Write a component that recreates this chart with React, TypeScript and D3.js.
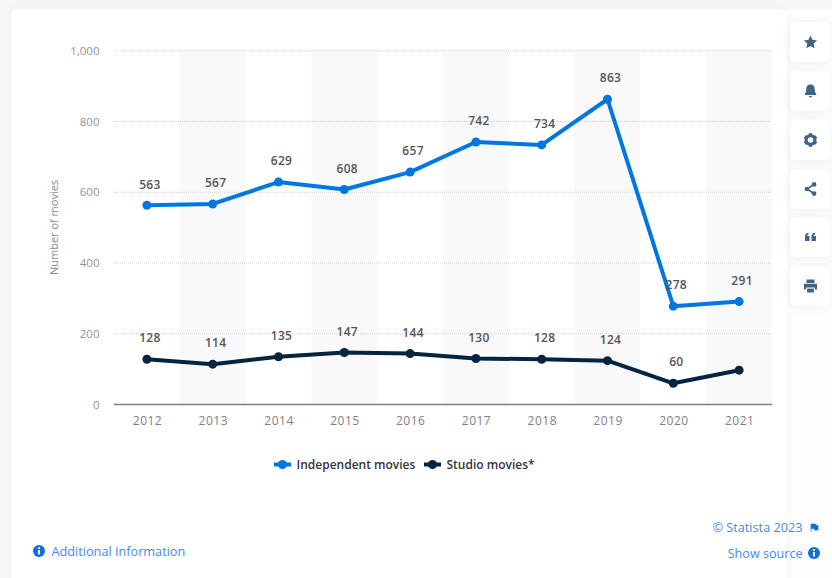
import React from "react";
import * as d3 from "d3";

const years = ["2012", "2013", "2014", "2015", "2016", "2017", "2018", "2019", "2020", "2021"];
const independentMovies = [563, 567, 629, 608, 657, 742, 734, 863, 278, 291];
const studioMovies = [128, 114, 135, 147, 144, 130, 128, 124, 60, 97];
const studioLabels = ["128", "114", "135", "147", "144", "130", "128", "124", "60", ""];
const yTicks = [0, 200, 400, 600, 800, 1000];
const seriesNames = ["Independent movies", "Studio movies*"];
const seriesColors = ["#0077e0", "#04243f"];

const FONT = "'Open Sans', sans-serif";
const x = d3.scaleBand<string>().domain(years).range([114, 772]);
const y = d3.scaleLinear().domain([0, 1000]).range([404.5, 50.8]);
const cx = (year: string) => (x(year) as number) + x.bandwidth() / 2;
const line = d3
  .line<number>()
  .x((_, i) => cx(years[i]))
  .y((v) => y(v));
const tickFormat = d3.format(",");

const ICON = "#3f6485";
const buttonTops = [22, 71, 120, 169, 217, 266];

// Glyphs for the toolbar buttons, each centred on the origin.
function ToolIcon({ kind }: { kind: number }) {
  switch (kind) {
    case 0:
      return <path fill={ICON} d="M0-6.5 2 -2.2 6.6-1.6 3.2 1.6 4.1 6.2 0 4 -4.1 6.2 -3.2 1.6 -6.6-1.6 -2-2.2Z" />;
    case 1:
      return (
        <g fill={ICON}>
          <path d="M0-6.5C3.2-6.5 4.3-4 4.3-1.5 4.3 1 5 2 5.8 3.2L5.8 4-5.8 4-5.8 3.2C-5 2-4.3 1-4.3-1.5-4.3-4-3.2-6.5 0-6.5Z" />
          <path d="M-1.8 5H1.8C1.5 6.8-1.5 6.8-1.8 5Z" />
        </g>
      );
    case 2:
      return (
        <g>
          <circle r={4.4} fill="none" stroke={ICON} strokeWidth={3.2} />
          {d3.range(6).map((i) => (
            <rect key={i} x={-1.6} y={-6.8} width={3.2} height={3} fill={ICON} transform={`rotate(${i * 60})`} />
          ))}
        </g>
      );
    case 3:
      return (
        <g fill={ICON} stroke={ICON}>
          <path d="M3.5-4.5-3.5 0 3.5 4.5" fill="none" strokeWidth={1.6} />
          <circle cx={3.6} cy={-4.6} r={2.3} stroke="none" />
          <circle cx={-3.6} cy={0} r={2.3} stroke="none" />
          <circle cx={3.6} cy={4.6} r={2.3} stroke="none" />
        </g>
      );
    case 4:
      return (
        <g fill={ICON}>
          <path d="M-5.5 4V-0.5C-5.5-2.8-4.2-4-2-4.2V-2.6C-3-2.4-3.4-1.8-3.4-1H-1V4Z" />
          <path d="M1 4V-0.5C1-2.8 2.3-4 4.5-4.2V-2.6C3.5-2.4 3.1-1.8 3.1-1H5.5V4Z" />
        </g>
      );
    default:
      return (
        <g fill={ICON}>
          <path d="M-4-6.5H4V-3H-4Z" />
          <path d="M-6.5-2.2H6.5V3.5H4.4V1.5H-4.4V3.5H-6.5Z" />
          <path d="M-3.4 2.6H3.4V6.5H-3.4Z" />
        </g>
      );
  }
}

function Series({ values, color }: { values: number[]; color: string }) {
  return (
    <g>
      <path d={line(values) ?? ""} fill="none" stroke={color} strokeWidth={4} strokeLinejoin="round" />
      {values.map((v, i) => (
        <circle key={years[i]} cx={cx(years[i])} cy={y(v)} r={4.5} fill={color} />
      ))}
    </g>
  );
}

function ValueLabels({ values, labels }: { values: number[]; labels: string[] }) {
  return (
    <g fontFamily={FONT} fontSize={12} fontWeight={600} fill="#555555" textAnchor="middle" letterSpacing={0.3}>
      {values.map((v, i) =>
        labels[i] ? (
          <text key={years[i]} x={cx(years[i]) + 3} y={y(v) - 16.8}>
            {labels[i]}
          </text>
        ) : null
      )}
    </g>
  );
}

function LegendItem({ left, name, color }: { left: number; name: string; color: string }) {
  return (
    <g>
      <line x1={left} x2={left + 17} y1={464.5} y2={464.5} stroke={color} strokeWidth={4} />
      <circle cx={left + 8.5} cy={464.5} r={4.5} fill={color} />
      <text x={left + 22.5} y={469} fontFamily={FONT} fontSize={12} fontWeight={600} fill="#2e3640">
        {name}
      </text>
    </g>
  );
}

function InfoDot({ px, py }: { px: number; py: number }) {
  return (
    <g transform={`translate(${px},${py})`}>
      <circle r={6} fill="#0b6fe0" />
      <rect x={-1} y={-1} width={2} height={4.4} fill="#fff" />
      <rect x={-1} y={-3.8} width={2} height={1.8} fill="#fff" />
    </g>
  );
}

export default function App() {
  return (
    <svg
      width={832}
      height={578}
      style={{ position: "fixed", left: 0, top: 0, display: "block" }}
      xmlns="http://www.w3.org/2000/svg"
    >
      <defs>
        <filter id="soft" x="-20%" y="-20%" width="140%" height="140%">
          <feDropShadow dx={0} dy={1} stdDeviation={5} floodColor="#8a99a8" floodOpacity={0.16} />
        </filter>
        <filter id="cardEdge" x="-5%" y="-5%" width="110%" height="110%">
          <feDropShadow dx={0} dy={0} stdDeviation={4} floodColor="#8a99a8" floodOpacity={0.1} />
        </filter>
      </defs>
      <rect width={832} height={578} fill="#f6f7f9" />
      <rect x={780} y={9} width={52} height={569} fill="#fefefe" />
      <rect x={11} y={9} width={776} height={600} rx={6} fill="#fff" filter="url(#cardEdge)" />

      {/* Alternating year bands */}
      {years.map((year, i) =>
        i % 2 === 1 ? (
          <rect key={year} x={x(year)} y={y(1000)} width={x.bandwidth()} height={y(0) - y(1000)} fill="#f9f9fa" />
        ) : null
      )}

      {/* Horizontal grid and baseline */}
      {yTicks
        .filter((t) => t > 0)
        .map((t) => (
          <line key={t} x1={114} x2={772} y1={y(t)} y2={y(t)} stroke="#cfcfcf" strokeDasharray="1 1" />
        ))}
      <line x1={114} x2={772} y1={y(0)} y2={y(0)} stroke="#7d7d7d" strokeWidth={1.5} />

      {/* Axis labels */}
      <g fontFamily={FONT} fontSize={11.5} fill="#949494" textAnchor="end">
        {yTicks.map((t) => (
          <text key={t} x={99.5} y={y(t) + 4}>
            {tickFormat(t)}
          </text>
        ))}
      </g>
      <g fontFamily={FONT} fontSize={12} fill="#7f7f7f" textAnchor="middle" letterSpacing={0.5}>
        {years.map((year) => (
          <text key={year} x={cx(year) + 0.6} y={425}>
            {year}
          </text>
        ))}
      </g>
      <text
        transform="translate(58,227.5) rotate(-90)"
        fontFamily={FONT}
        fontSize={11}
        fill="#7f8a94"
        textAnchor="middle"
      >
        Number of movies
      </text>

      <Series values={independentMovies} color={seriesColors[0]} />
      <Series values={studioMovies} color={seriesColors[1]} />
      <ValueLabels values={independentMovies} labels={independentMovies.map(String)} />
      <ValueLabels values={studioMovies} labels={studioLabels} />

      <LegendItem left={274} name={seriesNames[0]} color={seriesColors[0]} />
      <LegendItem left={424} name={seriesNames[1]} color={seriesColors[1]} />

      {/* Footer links */}
      <InfoDot px={39} py={551} />
      <text x={51.5} y={556} fontFamily={FONT} fontSize={12.7} fill="#4a87ee">
        Additional Information
      </text>
      <text x={802.5} y={532} fontFamily={FONT} fontSize={12.7} fill="#4a87ee" textAnchor="end">
        © Statista 2023
      </text>
      <path d="M811 523.5V532M811.5 524H815.5L816 525.5H818V530H814.5L814 528.5H811.5Z" fill="#0b6fe0" stroke="#0b6fe0" strokeWidth={0.7} />
      <text x={802.5} y={558} fontFamily={FONT} fontSize={12.6} fill="#4a87ee" textAnchor="end">
        Show source
      </text>
      <InfoDot px={814} py={553} />

      {/* Toolbar */}
      {buttonTops.map((top, i) => (
        <g key={top}>
          <rect x={790} y={top} width={41} height={40} rx={6} fill="#fff" filter="url(#soft)" />
          <g transform={`translate(810.5,${top + 20})`}>
            <ToolIcon kind={i} />
          </g>
        </g>
      ))}
    </svg>
  );
}
